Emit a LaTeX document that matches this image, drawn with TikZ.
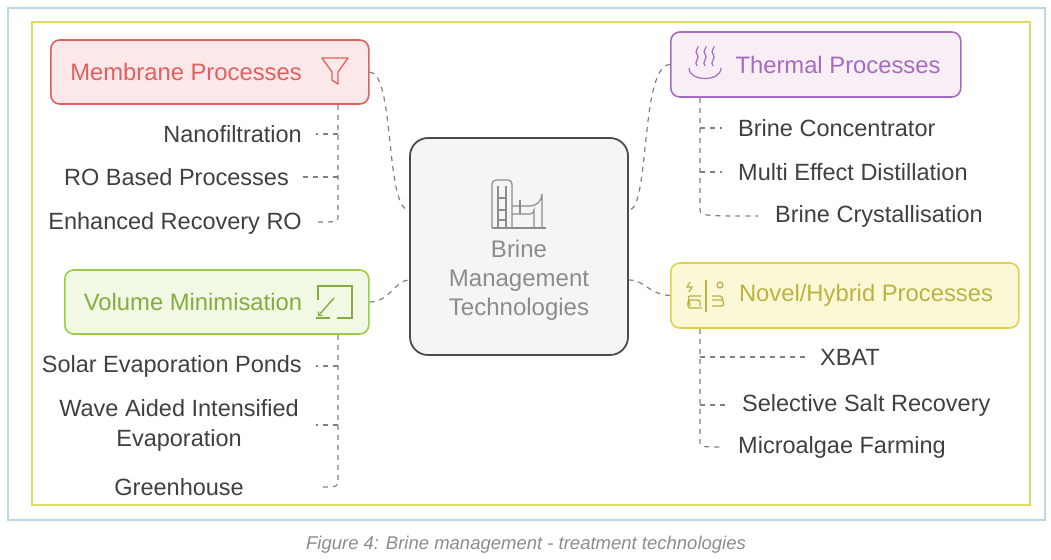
\documentclass[tikz,border=0pt]{standalone}
\usepackage{fontspec}
\setmainfont{Liberation Sans}
\begin{document}
\begin{tikzpicture}[x=1pt,y=-1pt,
 cat/.style={rounded corners=9pt,line width=1.6pt,minimum height=64pt,anchor=west,inner sep=0pt},
 leaf/.style={font=\fontsize{23.5}{30}\selectfont,text=black!75,inner sep=1pt},
 dsh/.style={draw=black!50,line width=1.2pt,dash pattern=on 5pt off 5pt},
 ttl/.style={font=\fontsize{23.8}{26}\selectfont}]
\useasboundingbox (0,0) rectangle (1051,559);
\definecolor{mred}{HTML}{E06060}\definecolor{mpink}{HTML}{FCE8E8}
\definecolor{tpur}{HTML}{A86BC0}\definecolor{tpink}{HTML}{F7EEF6}
\definecolor{vgr}{HTML}{9BCB4A}\definecolor{vlg}{HTML}{F1F8E4}
\definecolor{nyl}{HTML}{DDD24A}\definecolor{nlg}{HTML}{FBF8D8}
\draw[draw=cyan!30!teal!30,line width=1.2pt] (8,8) rectangle (1045,520);
\draw[draw=yellow!80!black!70,line width=1.2pt] (32,22) rectangle (1030,505);
\node[font=\itshape\fontsize{18.5}{20}\selectfont,text=black!45] (cap) at (526,545) {Figure 4: Brine management - treatment technologies};
% center
\node[draw=black!70,fill=black!4,line width=1.8pt,rounded corners=18pt,minimum width=218pt,minimum height=217pt] (c) at (519,246.5) {};
\node[align=center,text=black!45,font=\fontsize{24}{29}\selectfont] (ct) at (519,280) {Brine\\Management\\Technologies};
\begin{scope}[draw=black!45,line width=1.2pt]
\draw[rounded corners=4pt] (492,228) -- (492,180) -- (512,180) -- (512,228);
\draw (492,228) -- (546,228);
\draw (498,186) -- (498,228) (506,186)--(506,228) (498,198)--(506,198) (498,210)--(506,210) (498,220)--(506,220);
\draw (512,206) -- (530,206) arc(90:0:12) -- (542,228);
\draw (512,214) -- (530,214) arc(90:0:4) -- (534,228);
\draw (520,200)--(520,214);
\end{scope}
% categories
\node[cat,draw=mred,fill=mpink,minimum width=318pt] (m) at (50,72) {};
\node[ttl,text=mred] (mt) at (186,72) {Membrane Processes};
\draw[mred,line width=1.3pt,line join=round] (322,58) -- (348,58) -- (338,72) -- (338,84) -- (332,80) -- (332,72) -- cycle;
\node[cat,draw=tpur,fill=tpink,minimum width=290pt,minimum height=65pt] (t) at (670,64.5) {};
\node[ttl,text=tpur] (tt) at (838,65) {Thermal Processes};
\begin{scope}[tpur,line width=1.2pt]
\draw (689,68) .. controls (689,82) and (721,82) .. (721,68);
\foreach \x in {697,705,713}{\draw (\x,54) .. controls (\x+4,58) and (\x-4,62) .. (\x,66);
\draw (\x,54) .. controls (\x-3,51) and (\x+2,48) .. (\x+1,46);}
\end{scope}
\node[cat,draw=vgr,fill=vlg,minimum width=304pt] (v) at (64,302) {};
\node[ttl,text=vgr!85!black] (vt) at (193,302) {Volume Minimisation};
\begin{scope}[vgr!85!black,line width=1.4pt]
\draw (318,300) -- (318,286) -- (352,286) -- (352,318) -- (337,318);
\draw[->] (334,298) -- (318,316);
\draw (316,318)--(330,318);
\end{scope}
\node[cat,draw=nyl,fill=nlg,minimum width=348pt,minimum height=65pt] (n) at (670,295.5) {};
\node[ttl,text=nyl!85!black] (nt) at (866,295) {Novel/Hybrid Processes};
\begin{scope}[nyl!85!black,line width=1.2pt]
\draw (706,280)--(706,312);
\draw[rounded corners=2pt] (690,306) -- (688,296) -- (701,296) (700,306)--(700,300) -- (688,300) -- (688,308) -- (702,308);
\draw[rounded corners=2pt] (712,296) -- (722,296) -- (724,306) -- (712,306) (712,300)--(722,300);
\draw (690,282)--(687,287)--(692,287)--(689,292);
\draw (720,285) circle (3);
\end{scope}
% center connectors
\draw[dsh] (m.east) .. controls (395,72) and (385,210) .. (c.west|-0,210);
\draw[dsh] (t.west) .. controls (640,65) and (650,210) .. (c.east|-0,210);
\draw[dsh] (v.east) .. controls (390,302) and (395,280) .. (c.west|-0,280);
\draw[dsh] (n.west) .. controls (648,294) and (645,280) .. (c.east|-0,280);
% membrane leaves
\node[leaf,anchor=east] (l1) at (303,134) {Nanofiltration};
\node[leaf,anchor=east] (l2) at (290,177) {RO Based Processes};
\node[leaf,anchor=east] (l3) at (303,223) {Enhanced Recovery RO};
\draw[dsh] (m.south-|338,0) -- (338,215) .. controls (338,222) .. (318,222);
\draw[dsh] (338,134) -- (316,134);
\draw[dsh] (338,177) -- (302,177);
% volume leaves
\node[leaf,anchor=east] (w1) at (303,366) {Solar Evaporation Ponds};
\node[leaf,anchor=east,align=center] (w2) at (300,425) {Wave Aided Intensified\\Evaporation};
\node[leaf,anchor=east] (w3) at (245,487) {Greenhouse};
\draw[dsh] (v.south-|338,0) -- (338,480) .. controls (338,487) .. (318,487);
\draw[dsh] (338,366) -- (316,366);
\draw[dsh] (338,425) -- (316,425);
% thermal leaves
\node[leaf,anchor=west] (r1) at (737,128) {Brine Concentrator};
\node[leaf,anchor=west] (r2) at (737,172) {Multi Effect Distillation};
\node[leaf,anchor=west] (r3) at (774,216) {Brine Crystallisation};
\draw[dsh] (t.south-|700,0) -- (700,208) .. controls (700,216) .. (758,216);
\draw[dsh] (700,128) -- (722,128);
\draw[dsh] (700,172) -- (722,172);
% novel leaves
\node[leaf,anchor=west] (s1) at (819,357) {XBAT};
\node[leaf,anchor=west] (s2) at (741,405) {Selective Salt Recovery};
\node[leaf,anchor=west] (s3) at (737,447) {Microalgae Farming};
\draw[dsh] (n.south-|700,0) -- (700,440) .. controls (700,447) .. (722,447);
\draw[dsh] (700,357) -- (806,357);
\draw[dsh] (700,405) -- (726,405);
\end{tikzpicture}
\end{document}
